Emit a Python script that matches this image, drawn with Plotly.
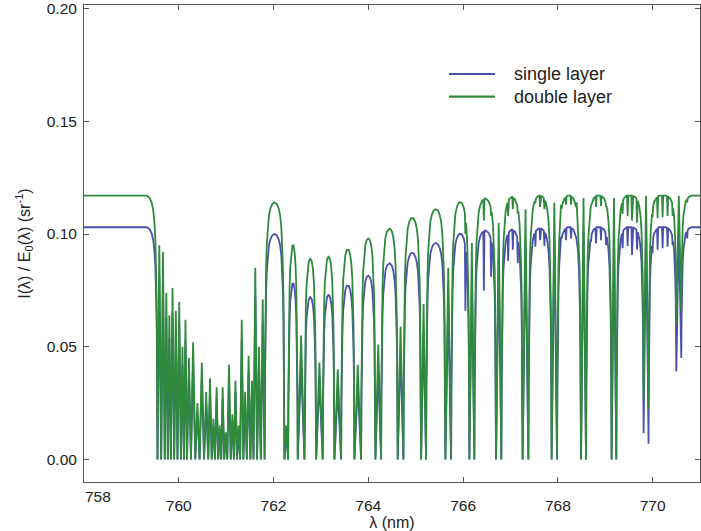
import numpy as np
import plotly.graph_objects as go

# ---------------- data ----------------
X_START, X_END = 758.0, 771.0

# centres of the strong (saturated) absorption lines, nm
DEEP_X = [
    759.551, 759.629, 759.705, 759.770, 759.833, 759.903, 759.973, 760.046,
    760.110, 760.173, 760.257, 760.348, 760.439, 760.534, 760.622, 760.696,
    760.764, 760.833, 760.895, 760.958, 761.023, 761.097, 761.165, 761.228,
    761.295, 761.363, 761.437, 761.511, 761.578, 761.652, 761.732, 761.812,
    762.230, 762.308, 762.511, 762.652, 762.899, 763.038, 763.285, 763.426,
    763.707, 763.848, 764.150, 764.270, 764.620, 764.741, 765.114, 765.219,
    765.627, 765.747, 766.133, 766.238, 766.696, 766.808, 767.257, 767.378,
    767.869, 767.983, 768.489, 768.595, 769.135, 769.234, 769.810, 769.914,
    770.500, 770.605,
]
# minimum of each strong line
DEEP_MIN_BLUE = [0.0] * 62 + [0.0116, 0.007, 0.039, 0.045]
DEEP_MIN_GREEN = [0.0] * 62 + [0.026, 0.022, 0.060, 0.066]

# maximum reached in each window between consecutive strong lines
WIN_PEAK_GREEN = [
    0.117,
    0.095, 0.092, 0.074, 0.064, 0.076, 0.066, 0.070, 0.050, 0.062, 0.045,
    0.052, 0.025, 0.043, 0.030, 0.036, 0.018, 0.032, 0.015, 0.032, 0.012,
    0.042, 0.020, 0.035, 0.015, 0.062, 0.030, 0.046, 0.035, 0.085, 0.050,
    0.071,
    0.114,
    0.015, 0.095, 0.055, 0.089, 0.043, 0.090, 0.040, 0.093, 0.042, 0.098,
    0.051, 0.1024, 0.059, 0.107, 0.069, 0.111, 0.085, 0.114, 0.096, 0.1158,
    0.105, 0.1165, 0.111, 0.117, 0.114, 0.117, 0.116, 0.117, 0.116, 0.117,
    0.117, 0.117, 0.117, 0.117,
]
WIN_PEAK_BLUE = [
    0.103,
    0.082, 0.079, 0.063, 0.054, 0.065, 0.056, 0.060, 0.042, 0.053, 0.038,
    0.044, 0.021, 0.036, 0.025, 0.030, 0.015, 0.027, 0.012, 0.027, 0.010,
    0.036, 0.017, 0.030, 0.012, 0.053, 0.025, 0.039, 0.030, 0.073, 0.042,
    0.060,
    0.100,
    0.012, 0.078, 0.042, 0.072, 0.034, 0.073, 0.031, 0.077, 0.033, 0.0815,
    0.040, 0.087, 0.047, 0.0915, 0.056, 0.096, 0.070, 0.100, 0.078, 0.1016,
    0.089, 0.102, 0.095, 0.1025, 0.099, 0.103, 0.101, 0.103, 0.102, 0.103,
    0.103, 0.103, 0.103, 0.103,
]

# weak lines on top of the windows
WEAK_X = [
    766.049, 766.439, 766.591, 766.951, 767.050, 767.154, 767.526, 767.625,
    767.716, 768.067, 768.173, 768.278, 768.397, 768.700, 768.806, 768.911,
    769.017, 769.367, 769.473, 769.565, 769.671, 769.999, 770.105, 770.211,
    770.316, 770.422, 770.730,
]
WEAK_MIN_BLUE = [
    0.066, 0.075, 0.081, 0.088, 0.093, 0.087, 0.0944, 0.0973,
    0.0947, 0.0988, 0.0973, 0.098, 0.0973, 0.0966, 0.0958, 0.0973,
    0.0951, 0.0937, 0.0947, 0.0907, 0.093, 0.0915, 0.093, 0.0937,
    0.0944, 0.0951, 0.098,
]
WEAK_MIN_GREEN = [
    0.100, 0.106, 0.108, 0.108, 0.111, 0.109, 0.1136, 0.112,
    0.111, 0.113, 0.113, 0.113, 0.114, 0.1125, 0.112, 0.1125,
    0.112, 0.109, 0.108, 0.106, 0.105, 0.1075, 0.107, 0.1075,
    0.108, 0.108, 0.114,
]

X_TICKS = [758, 760, 762, 764, 766, 768, 770]
Y_TICKS = [0.00, 0.05, 0.10, 0.15, 0.20]

# ---------------- drawing helpers ----------------
# rounded flank of a window beside a strong line: distance (nm) -> fraction of rise
FLANK_OFF = [0.0, 0.006, 0.012, 0.02, 0.03, 0.045, 0.065, 0.09, 0.12, 0.16, 0.22]
FLANK_FR = [0.0, 0.30, 0.48, 0.62, 0.73, 0.83, 0.90, 0.945, 0.972, 0.99, 1.0]
NARROW = 0.16
DIP_HALF = 0.012


def flank(d):
    return np.interp(d, FLANK_OFF, FLANK_FR)


def build(deep_x, deep_min, win_peak, weak_x, weak_min):
    edges = [X_START] + list(deep_x) + [X_END]
    n = len(deep_x)
    xs_all, ys_all = [X_START], [win_peak[0]]
    for i in range(n + 1):
        a, b = edges[i], edges[i + 1]
        p = win_peak[i]
        has_l, has_r = i > 0, i < n
        w = b - a
        if has_l and has_r and w < NARROW:
            xs_all.append((a + b) / 2)
            ys_all.append(p)
        else:
            mid = (a + b) / 2
            samp = []
            for off in FLANK_OFF[1:]:
                if has_l and off < (w / 2 if has_r else w):
                    samp.append(a + off)
                if has_r and off < (w / 2 if has_l else w):
                    samp.append(b - off)
            if has_l and has_r:
                samp.append(mid)
            samp = sorted(samp)
            norm = 1.0
            if has_l and has_r:
                norm = float(flank(w / 2)) ** 2
            for x in samp:
                g = 1.0
                if has_l:
                    g *= float(flank(x - a))
                if has_r:
                    g *= float(flank(b - x))
                g = min(g / norm, 1.0)
                if has_l and (not has_r or x <= mid):
                    base = deep_min[i - 1]
                else:
                    base = deep_min[i]
                xs_all.append(x)
                ys_all.append(base + g * (p - base))
        if has_r:
            xs_all.append(b)
            ys_all.append(deep_min[i])
        else:
            xs_all.append(b)
            ys_all.append(p)
    xs = np.array(xs_all)
    ys = np.array(ys_all)
    for xw, mw in zip(weak_x, weak_min):
        yl = float(np.interp(xw - DIP_HALF, xs, ys))
        yr = float(np.interp(xw + DIP_HALF, xs, ys))
        keep = (xs < xw - DIP_HALF) | (xs > xw + DIP_HALF)
        xs = np.concatenate([xs[keep], [xw - DIP_HALF, xw, xw + DIP_HALF]])
        ys = np.concatenate([ys[keep], [yl, mw, yr]])
        order = np.argsort(xs, kind="stable")
        xs, ys = xs[order], ys[order]
    return xs, ys


xb, yb = build(DEEP_X, DEEP_MIN_BLUE, WIN_PEAK_BLUE, WEAK_X, WEAK_MIN_BLUE)
xg, yg = build(DEEP_X, DEEP_MIN_GREEN, WIN_PEAK_GREEN, WEAK_X, WEAK_MIN_GREEN)

BLUE = "#4b4fae"
GREEN = "#2f8a3c"
FONT = "Liberation Sans, Arial, sans-serif"
TXT = "#222222"

fig = go.Figure()
fig.add_trace(go.Scatter(x=xb, y=yb, mode="lines", name="single layer",
                         line=dict(color=BLUE, width=1.8)))
fig.add_trace(go.Scatter(x=xg, y=yg, mode="lines", name="double layer",
                         line=dict(color=GREEN, width=1.8)))

axis_common = dict(showline=True, linecolor="#555555", linewidth=1,
                   mirror="ticks", ticks="inside", ticklen=5, tickcolor="#555555",
                   showgrid=False, zeroline=False, ticklabeloverflow="allow",
                   tickfont=dict(family=FONT, size=15.5, color=TXT))

# the first x label sits just right of the axis corner in the reference
x_ticktext = [""] + [str(v) for v in X_TICKS[1:]]
fig.update_xaxes(range=[X_START, X_END], tickvals=X_TICKS, ticktext=x_ticktext,
                 title=dict(text="λ (nm)", font=dict(family=FONT, size=16, color=TXT),
                            standoff=5),
                 ticklabelstandoff=9, **axis_common)
fig.add_annotation(xref="x", yref="paper", x=X_TICKS[0], y=0, xanchor="left",
                   yanchor="top", xshift=-1, yshift=-4, showarrow=False,
                   text=str(X_TICKS[0]), font=dict(family=FONT, size=15.5, color=TXT))
fig.update_yaxes(range=[-0.0100, 0.2016], tickvals=Y_TICKS, tickformat=".2f",
                 title=dict(text="I(λ) / E<sub>0</sub>(λ) (sr<sup>-1</sup>)",
                            font=dict(family=FONT, size=16, color=TXT),
                            standoff=12),
                 ticklabelstandoff=3, **axis_common)

# legend drawn as key lines and labels in the upper middle of the plot
LEG = [("single layer", BLUE, 0.8553), ("double layer", GREEN, 0.8078)]
for label, col, yp in LEG:
    fig.add_shape(type="line", xref="paper", yref="paper",
                  x0=0.5925, x1=0.6672, y0=yp, y1=yp,
                  line=dict(color=col, width=2.2))
    fig.add_annotation(xref="paper", yref="paper", x=0.6943, y=yp,
                       xanchor="left", yanchor="middle", showarrow=False,
                       text=label, font=dict(family=FONT, size=18, color=TXT))

fig.update_layout(width=701, height=531, showlegend=False,
                  margin=dict(l=84, r=1, t=5, b=49),
                  plot_bgcolor="white", paper_bgcolor="white")

fig.write_html("out.html")
